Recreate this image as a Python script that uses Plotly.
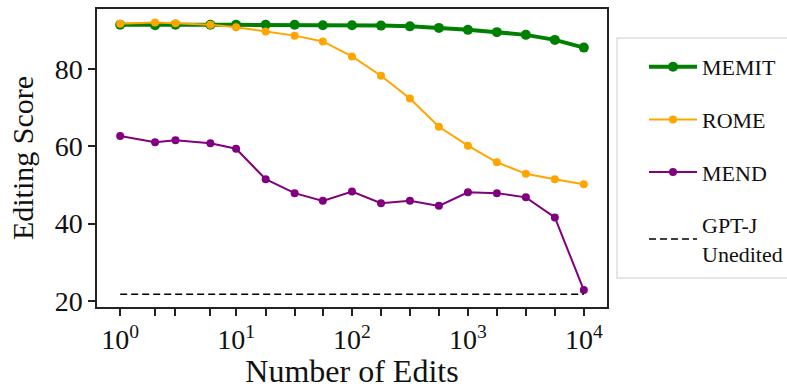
import plotly.graph_objects as go

edits = [1, 2, 3, 6, 10, 18, 32, 56, 100, 178, 316, 562, 1000, 1778, 3162, 5623, 10000]
memit = [91.5, 91.4, 91.5, 91.5, 91.5, 91.5, 91.5, 91.4, 91.4, 91.3, 91.1, 90.7, 90.2, 89.6, 88.9, 87.6, 85.6]
rome = [91.8, 92.1, 91.9, 91.5, 90.9, 89.8, 88.7, 87.2, 83.3, 78.3, 72.4, 65.1, 60.2, 55.9, 52.9, 51.5, 50.2]
mend = [62.7, 61.1, 61.6, 60.8, 59.4, 51.5, 47.9, 45.9, 48.3, 45.3, 45.9, 44.6, 48.1, 47.9, 46.8, 41.6, 22.8]
unedited_x = [1, 10000]
unedited_y = [21.7, 21.7]
decade_vals = [1, 10, 100, 1000, 10000]
decade_text = ["10<sup>0</sup>", "10<sup>1</sup>", "10<sup>2</sup>", "10<sup>3</sup>", "10<sup>4</sup>"]
y_ticks = [20, 40, 60, 80]

minor_vals = [v for v in edits if v not in decade_vals]

FONT = "Liberation Serif, Times New Roman, serif"
fig = go.Figure()
fig.add_trace(go.Scatter(x=edits, y=memit, mode="lines+markers", name="MEMIT",
                         line=dict(color="#008000", width=4), marker=dict(size=10, color="#008000"),
                         legendgroup="a"))
fig.add_trace(go.Scatter(x=edits, y=rome, mode="lines+markers", name="ROME",
                         line=dict(color="#FFA500", width=2), marker=dict(size=8, color="#FFA500"),
                         legendgroup="b"))
fig.add_trace(go.Scatter(x=edits, y=mend, mode="lines+markers", name="MEND",
                         line=dict(color="#800080", width=2), marker=dict(size=8, color="#800080"),
                         legendgroup="c"))
fig.add_trace(go.Scatter(x=unedited_x, y=unedited_y, mode="lines", name="GPT-J<br>Unedited",
                         line=dict(color="black", width=1.5, dash="7px,4px"),
                         legendgroup="d"))

# legend frame (drawn separately so the entries can be indented)
fig.add_shape(type="rect", xref="paper", yref="paper",
              x0=(617 - 97) / 510, x1=1.5, y0=(307 - 278) / 298, y1=(307 - 38) / 298,
              line=dict(color="#dddddd", width=1.5), fillcolor="white", layer="below")

fig.update_layout(
    width=787, height=389,
    margin=dict(l=97, r=180, t=9, b=82, autoexpand=False),
    plot_bgcolor="white", paper_bgcolor="white",
    font=dict(family=FONT, color="#111111"),
    legend=dict(x=(644 - 97) / 510, xanchor="left", y=(307 - 46) / 298, yanchor="top",
                borderwidth=0, bgcolor="rgba(0,0,0,0)",
                font=dict(size=22, family=FONT), tracegroupgap=21, itemwidth=48),
    showlegend=True,
)
fig.update_xaxes(type="log", range=[-0.2, 4.2], tickvals=decade_vals, ticktext=decade_text,
                 ticks="outside", ticklen=7, tickwidth=1.5, tickcolor="#222",
                 minor=dict(tickmode="array", tickvals=minor_vals, ticks="outside",
                            ticklen=7, tickwidth=1.5, tickcolor="#222", showgrid=False),
                 showline=True, linecolor="#222", linewidth=1.5, mirror=True,
                 showgrid=False, zeroline=False, tickfont=dict(size=28, family=FONT),
                 title=dict(text="Number of Edits", font=dict(size=32, family=FONT), standoff=6))
fig.update_yaxes(range=[18.4, 95.6], tickvals=y_ticks,
                 ticks="outside", ticklen=7, tickwidth=1.5, tickcolor="#222",
                 showline=True, linecolor="#222", linewidth=1.5, mirror=True,
                 showgrid=False, zeroline=False, tickfont=dict(size=28, family=FONT),
                 title=dict(text="Editing Score", font=dict(size=30, family=FONT), standoff=12))

fig.write_html("out.html")
